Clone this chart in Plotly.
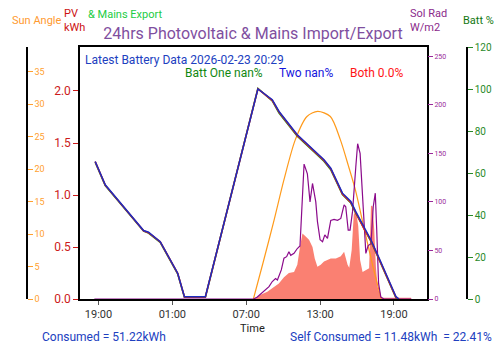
import plotly.graph_objects as go

D1 = "2026-02-22 "
D2 = "2026-02-23 "

# Battery state of charge (%)
batt_time = [D1 + "18:44", D1 + "19:33", D1 + "22:40", D1 + "23:04", D2 + "00:01", D2 + "01:26",
             D2 + "01:59", D2 + "03:41", D2 + "07:57", D2 + "09:07", D2 + "09:40", D2 + "11:09",
             D2 + "13:19", D2 + "13:52", D2 + "14:49", D2 + "15:05", D2 + "15:30", D2 + "15:54",
             D2 + "16:35", D2 + "17:08", D2 + "17:48", D2 + "18:21", D2 + "18:54", D2 + "19:10",
             D2 + "19:24"]
batt_one = [65.2, 54.0, 32.3, 31.4, 27.0, 12.0, 0.8, 0.8, 100.3, 94.3, 88.6, 77.5,
            65.6, 61.6, 49.7, 48.1, 45.7, 40.9, 33.0, 27.4, 18.7, 11.6, 4.4, 0.5, 0]
batt_two = [65.4, 54.2, 32.5, 31.6, 27.2, 12.2, 1.0, 1.0, 100.1, 94.6, 89.0, 77.9,
            66.0, 62.0, 50.0, 48.5, 46.0, 41.2, 33.3, 27.8, 19.0, 12.0, 4.8, 0.8, 0]
batt_both = [65.5, 54.4, 32.6, 31.8, 27.3, 12.3, 1.1, 1.1, 100.0, 94.9, 89.3, 78.2,
             66.3, 62.3, 50.4, 48.8, 46.4, 41.6, 33.7, 28.1, 19.4, 12.3, 5.1, 1.1, 0]

# Sun elevation angle (deg)
sun_time = [D2 + t for t in ["07:35", "08:23", "09:13", "10:05", "10:59", "11:56", "12:48",
                             "13:50", "14:39", "15:18", "15:52", "16:33", "17:14", "17:58"]]
sun_angle = [0, 5.7, 11.8, 18.5, 24.5, 28.1, 28.9, 28.1, 24.5, 20.5, 16.8, 11.1, 5.5, 0]

# Solar radiation (W/m2)
rad_time = [D1 + "18:40"] + [D2 + t for t in [
    "07:36", "07:54", "08:26", "08:51", "09:07", "09:23", "09:32", "09:51", "10:04", "10:17",
    "10:28", "10:37", "10:53", "11:09", "11:22", "11:34", "11:42", "11:58", "12:11", "12:23",
    "12:39", "12:47", "13:00", "13:12", "13:23", "13:36", "13:52", "14:08", "14:25", "14:41",
    "14:57", "15:05", "15:17", "15:26", "15:38", "15:54", "16:03", "16:15", "16:27", "16:35",
    "16:43", "16:54", "17:08", "17:19", "17:29", "17:36", "17:45", "17:56", "18:11", "20:24"]]
sol_rad = [0, 0, 2, 7.5, 12.7, 18, 21, 19.6, 30, 42, 43.6,
           48.7, 45, 47, 52, 54.6, 98.5, 139, 129, 100, 119,
           100, 80, 61, 59, 66, 62.5, 81, 82, 81, 83,
           97, 95, 71, 71, 90, 136, 160, 150, 104, 64,
           47, 55, 57, 95, 109, 71, 16, 2, 0, 0]

# PV generation (kWh)
pv_time = [D2 + t for t in [
    "07:36", "08:10", "08:43", "09:15", "09:39", "10:04", "10:28", "10:53", "11:09", "11:22",
    "11:34", "11:50", "12:06", "12:23", "12:34", "12:47", "13:03", "13:19", "13:36", "13:52",
    "14:17", "14:41", "14:57", "15:14", "15:22", "15:34", "15:44", "15:54", "16:06", "16:15",
    "16:27", "16:43", "16:59", "17:08", "17:16", "17:24", "17:32", "17:40", "17:56", "20:23",
    "20:25"]]
pv_kwh = [0, 0.04, 0.07, 0.12, 0.15, 0.21, 0.25, 0.26, 0.33, 0.50,
          0.63, 0.60, 0.57, 0.50, 0.39, 0.31, 0.33, 0.36, 0.375, 0.39,
          0.39, 0.41, 0.455, 0.33, 0.30, 0.47, 0.81, 0.86, 0.70, 0.375,
          0.26, 0.28, 0.295, 0.90, 0.89, 0.66, 0.31, 0.12, 0.012, 0.012,
          0]

x_range = [D1 + "17:30", D2 + "21:41"]
pv_ticks = [0.0, 0.5, 1.0, 1.5, 2.0]

FONT = "Roboto"
fig = go.Figure()

fig.add_trace(go.Scatter(x=pv_time, y=pv_kwh, mode="lines", fill="tozeroy",
                         fillcolor="#fa8072", line=dict(width=0, color="#fa8072"),
                         yaxis="y", hoverinfo="skip"))
fig.add_trace(go.Scatter(x=sun_time, y=sun_angle, mode="lines",
                         line=dict(color="#ff9a1a", width=1.2, shape="spline", smoothing=0.8),
                         yaxis="y2"))
fig.add_trace(go.Scatter(x=rad_time, y=sol_rad, mode="lines",
                         line=dict(color="#8b0a8b", width=1.2), yaxis="y3"))
fig.add_trace(go.Scatter(x=batt_time, y=batt_one, mode="lines",
                         line=dict(color="#1a8a1a", width=1.6), yaxis="y4"))
fig.add_trace(go.Scatter(x=batt_time, y=batt_two, mode="lines",
                         line=dict(color="#ff1a1a", width=1.6), yaxis="y4"))
fig.add_trace(go.Scatter(x=batt_time, y=batt_both, mode="lines",
                         line=dict(color="#1c2cc0", width=1.5), yaxis="y4"))

W, H = 500, 353
T, B = 47, 54
PH = H - T - B


def px(x):
    return x / W


def py(y):
    return (H - B - y) / PH


fig.update_layout(
    width=W, height=H,
    margin=dict(l=0, r=0, t=T, b=B),
    paper_bgcolor="white", plot_bgcolor="white",
    showlegend=False,
    font=dict(family=FONT),
    title=dict(text="24hrs Photovoltaic & Mains Import/Export", x=253 / W, y=1 - 33 / H,
               xanchor="center", yanchor="middle", font=dict(size=16, color="#7f4f9f")),
    xaxis=dict(domain=[px(80), px(427)], type="date", range=x_range,
               tickformat="%H:%M", tick0=D1 + "19:00", dtick=6 * 3600 * 1000,
               ticks="outside", ticklen=4, tickcolor="#555",
               tickfont=dict(size=11, color="#333"),
               showline=True, linecolor="black", linewidth=1.5, mirror=True,
               showgrid=False, zeroline=False),
    yaxis=dict(range=[0, 2.423], tickvals=pv_ticks, tickformat=".1f",
               ticks="outside", ticklen=5, tickcolor="#cc1a1a",
               tickfont=dict(size=12, color="#cc1a1a"),
               showline=True, linecolor="black", linewidth=1.5, mirror=True,
               showgrid=False, zeroline=False),
    yaxis2=dict(overlaying="y", anchor="free", position=px(27), side="right",
                range=[0, 38.8], dtick=5, ticks="outside", ticklen=5, tickcolor="#ffa030",
                tickfont=dict(size=9, color="#ffa030"),
                showline=True, linecolor="black", linewidth=1.5,
                showgrid=False, zeroline=False),
    yaxis3=dict(overlaying="y", anchor="x", side="right",
                range=[0, 259.6], dtick=50, ticks="outside", ticklen=5, tickcolor="#9a2a9a",
                tickfont=dict(size=7, color="#9a2a9a"),
                showline=False, showgrid=False, zeroline=False),
    yaxis4=dict(overlaying="y", anchor="free", position=px(467), side="right",
                range=[0, 120], dtick=20, ticks="outside", ticklen=5, tickcolor="#2a8a2a",
                tickfont=dict(size=10, color="#2a8a2a"),
                showline=True, linecolor="black", linewidth=1.5,
                showgrid=False, zeroline=False),
)

ann = []


def add(text, x, y, size, color, xanchor="left"):
    ann.append(dict(text=text, x=px(x), y=py(y), xref="paper", yref="paper",
                    xanchor=xanchor, yanchor="middle", showarrow=False, align="left",
                    font=dict(size=size, color=color, family=FONT)))


add("Latest Battery Data 2026-02-23 20:29", 83, 59.5, 12, "#2040c0")
add("Batt One nan%", 183, 72.5, 12, "#118811")
add("Two nan%", 277, 72.5, 12, "#1515dd")
add("Both 0.0%", 348, 72.5, 12, "#ff1515")
add("Consumed = 51.22kWh", 168, 337, 12, "#2040c0", "right")
add("Self Consumed = 11.48kWh  = 22.41%", 288, 337, 12, "#2040c0")
add("Time", 252, 328, 11, "#222", "center")
add("Sun Angle", 10, 21, 11, "#ff9a30")
add("PV<br>kWh", 62, 20.5, 11, "#cc1111")
add("& Mains Export", 86, 14, 11, "#22cc44")
add("Sol Rad<br>W/m2", 408, 21, 11, "#8b2a8b")
add("Batt %", 461, 21, 11, "#117711")
fig.update_layout(annotations=ann)

fig.write_html("out.html")
